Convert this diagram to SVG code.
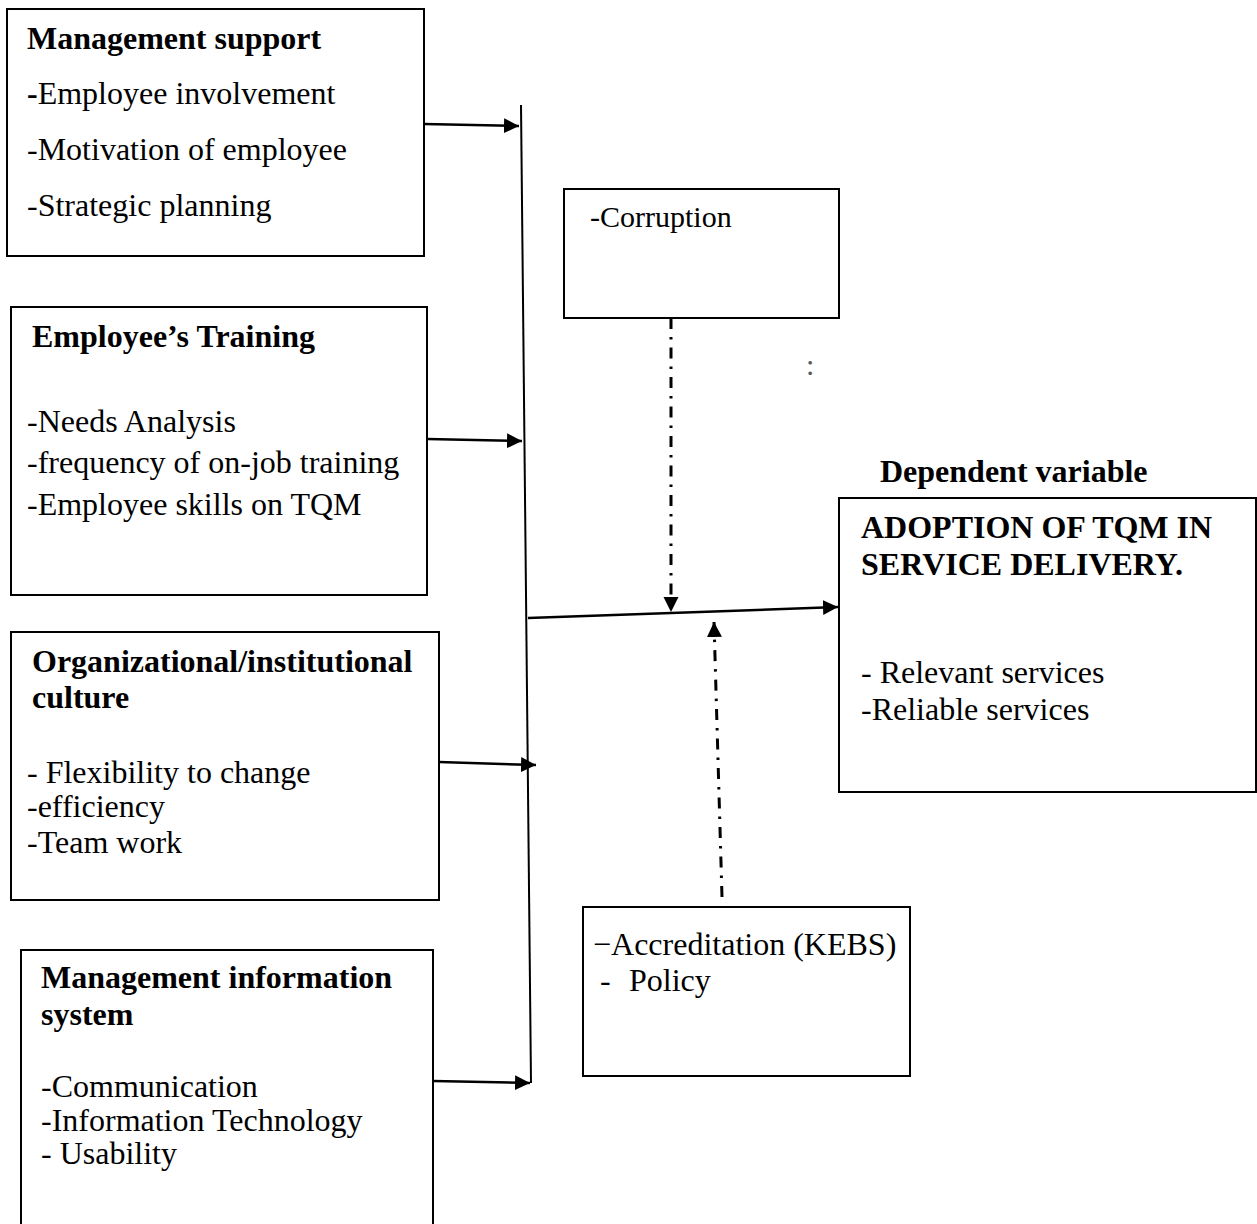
<svg xmlns="http://www.w3.org/2000/svg" width="1257" height="1224" viewBox="0 0 1257 1224">
<defs>
<marker id="ah" markerUnits="userSpaceOnUse" markerWidth="16" markerHeight="16" refX="15" refY="7.5" orient="auto">
<path d="M0,0 L15,7.5 L0,15 z" fill="#000"/>
</marker>
<style>
text{font-family:"Liberation Serif","Times New Roman",serif;font-size:32px;fill:#000}
.b{font-weight:bold}
.box{fill:#fff;stroke:#000;stroke-width:2}
.ln{stroke:#000;stroke-width:2.5;fill:none}
.dd{stroke:#000;stroke-width:3;fill:none;stroke-dasharray:11 8 2.5 8}
</style>
</defs>
<rect width="1257" height="1224" fill="#fff"/>

<g id="management-support">
<rect class="box" x="7" y="9" width="417" height="247"/>
<text class="b" x="27" y="49">Management support</text>
<text x="27" y="104"><tspan class="b">-</tspan>Employee involvement</text>
<text x="27" y="160">-Motivation of employee</text>
<text x="27" y="216">-Strategic planning</text>
</g>

<g id="employee-training">
<rect class="box" x="11" y="307" width="416" height="288"/>
<text class="b" x="32" y="347">Employee’s Training</text>
<text x="27" y="432">-Needs Analysis</text>
<text x="27" y="473">-frequency of on-job training</text>
<text x="27" y="515">-Employee skills on TQM</text>
</g>

<g id="organizational-culture">
<rect class="box" x="11" y="632" width="428" height="268"/>
<text class="b" x="32" y="672">Organizational/institutional</text>
<text class="b" x="32" y="708">culture</text>
<text x="27" y="783">- Flexibility to change</text>
<text x="27" y="817">-efficiency</text>
<text x="27" y="853">-Team work</text>
</g>

<g id="management-information-system">
<path class="box" d="M21,1230 L21,950 L433,950 L433,1230"/>
<text class="b" x="41" y="988">Management information</text>
<text class="b" x="41" y="1025">system</text>
<text x="41" y="1097">-Communication</text>
<text x="41" y="1131">-Information Technology</text>
<text x="41" y="1164">- Usability</text>
</g>

<g id="corruption">
<rect class="box" x="564" y="189" width="275" height="129"/>
<text x="590" y="227" style="font-size:30px">-Corruption</text>
</g>

<g id="accreditation">
<rect class="box" x="583" y="907" width="327" height="169"/>
<text x="593" y="955">−Accreditation (KEBS)</text>
<text x="600" y="991">-</text>
<text x="629" y="991">Policy</text>
</g>

<g id="dependent-variable">
<text class="b" x="880" y="482">Dependent variable</text>
<rect class="box" x="839" y="498" width="417" height="294"/>
<text class="b" x="861" y="538">ADOPTION OF TQM IN</text>
<text class="b" x="861" y="575">SERVICE DELIVERY.</text>
<text x="861" y="683">- Relevant services</text>
<text x="861" y="720">-Reliable services</text>
</g>

<g id="stray-mark">
<text x="806" y="375" style="font-size:30px;fill:#555">:</text>
</g>

<g id="connectors">
<line class="ln" x1="521" y1="105" x2="531" y2="1083" style="stroke-width:2"/>
<line class="ln" x1="424" y1="124" x2="519" y2="126" marker-end="url(#ah)"/>
<line class="ln" x1="427" y1="439" x2="522" y2="441" marker-end="url(#ah)"/>
<line class="ln" x1="439" y1="762" x2="536" y2="765" marker-end="url(#ah)"/>
<line class="ln" x1="433" y1="1081" x2="530" y2="1083" marker-end="url(#ah)"/>
<line class="ln" x1="528" y1="618" x2="838" y2="607" marker-end="url(#ah)"/>
<line class="dd" x1="671" y1="318" x2="671" y2="612" marker-end="url(#ah)"/>
<line class="dd" x1="722" y1="897" x2="714" y2="622" marker-end="url(#ah)"/>
</g>
</svg>
